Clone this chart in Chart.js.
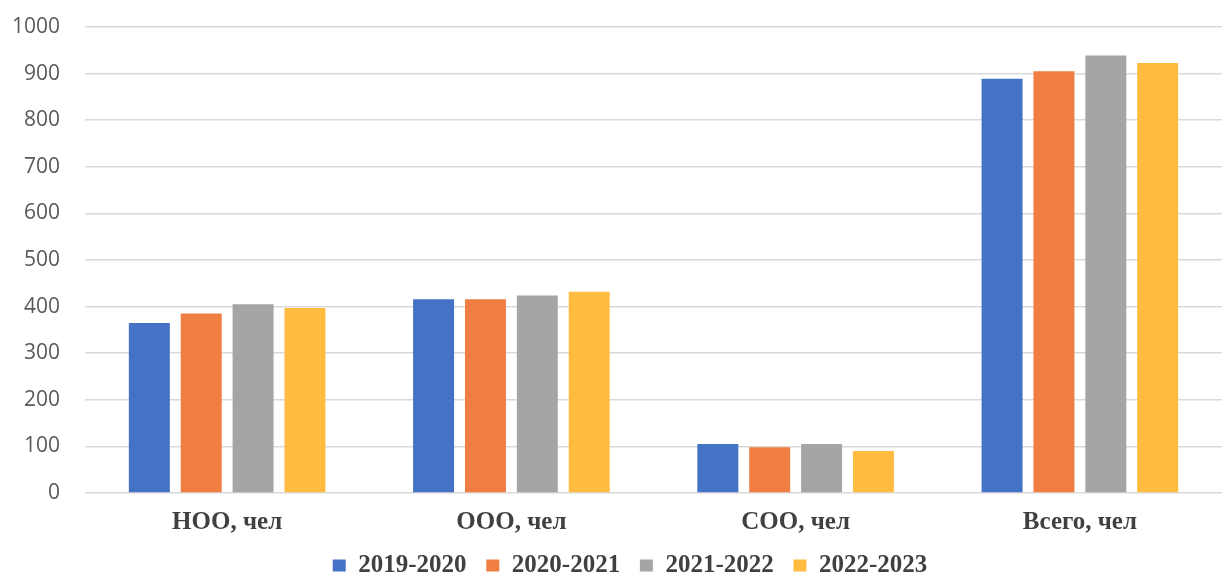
<!DOCTYPE html>
<html>
<head>
<meta charset="utf-8">
<script src="https://cdn.jsdelivr.net/npm/chart.js@4/dist/chart.umd.min.js"></script>
<style>
  html, body { margin: 0; padding: 0; background: #fff; overflow: hidden; }
  #wrap { width: 1224px; height: 574px; position: relative; }
</style>
</head>
<body>
<div id="wrap"><canvas id="chart"></canvas></div>
<script>
// Data
const categories = ['НОО, чел', 'ООО, чел', 'СОО, чел', 'Всего, чел'];
const years = ['2019-2020', '2020-2021', '2021-2022', '2022-2023'];
const values2019 = [365, 416, 105, 889];
const values2020 = [385, 416, 98, 905];
const values2021 = [405, 424, 105, 939];
const values2022 = [397, 432, 90, 923];
const colors = ['#4472c4', '#f07d42', '#a5a5a5', '#ffbc41'];
const yTicks = [0, 100, 200, 300, 400, 500, 600, 700, 800, 900, 1000];

const series = [values2019, values2020, values2021, values2022];
const serif = '"Liberation Serif", "Times New Roman", serif';
const legendGap = '\u00a0\u00a0\u00a0';

const datasets = years.map((y, i) => ({
    label: y,
    data: series[i],
    backgroundColor: colors[i],
    barPercentage: 0.79,
    categoryPercentage: 0.73
}));

// nudge the legend row a bit to the right, like in the original
const legendShift = {
    id: 'legendShift',
    afterLayout(chart) {
        chart.legend.left += 13;
        chart.legend.right += 13;
    }
};

new Chart(document.getElementById('chart').getContext('2d'), {
    type: 'bar',
    data: { labels: categories, datasets: datasets },
    plugins: [legendShift],
    options: {
        responsive: true,
        maintainAspectRatio: false,
        animation: false,
        layout: { padding: { top: 27, right: 2, left: 12, bottom: -14 } },
        plugins: {
            tooltip: { enabled: false },
            legend: {
                position: 'bottom',
                labels: {
                    boxWidth: 13,
                    boxHeight: 12,
                    padding: 1,
                    color: '#404040',
                    font: { family: serif, size: 25, weight: 'bold', lineHeight: 1 },
                    generateLabels: chart => {
                        const items = Chart.defaults.plugins.legend.labels.generateLabels(chart);
                        items.forEach((it, i) => {
                            if (i < items.length - 1) it.text = it.text + legendGap;
                        });
                        return items;
                    }
                }
            }
        },
        scales: {
            y: {
                min: 0,
                max: 1000,
                afterBuildTicks: axis => { axis.ticks = yTicks.map(v => ({ value: v })); },
                border: { display: false },
                grid: { color: '#d9d9d9', lineWidth: 1.5, tickLength: 25, tickColor: 'rgba(0,0,0,0)' },
                ticks: {
                    padding: 0,
                    color: '#595959',
                    callback: v => String(v),
                    font: { family: '"Open Sans", "Noto Sans", sans-serif', size: 21 }
                }
            },
            x: {
                border: { display: false },
                grid: { display: false, drawTicks: false },
                ticks: {
                    padding: 17,
                    color: '#404040',
                    font: { family: serif, size: 25, weight: 'bold', lineHeight: 1 }
                }
            }
        }
    }
});
</script>
</body>
</html>
